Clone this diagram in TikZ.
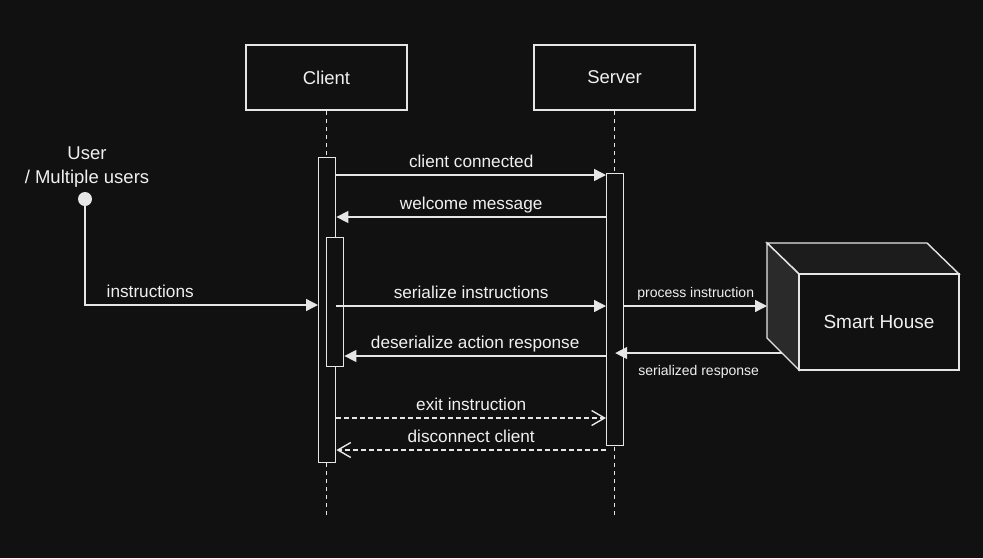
\documentclass[tikz,border=0pt]{standalone}
\usepackage{fontspec}
\setmainfont{Liberation Sans}
\usetikzlibrary{arrows.meta,calc}
\definecolor{bg}{HTML}{111111}
\definecolor{lc}{HTML}{E6E6E6}
\definecolor{tc}{HTML}{F0F0F0}
\definecolor{topf}{HTML}{1C1C1C}
\definecolor{leftf}{HTML}{2A2A2A}
\tikzset{
  actor/.style={draw=lc, line width=1.4pt, fill=bg, minimum width=161pt, minimum height=65pt, inner sep=0pt, text=tc, font=\fontsize{18.5}{21}\selectfont},
  actbar/.style={draw=lc, line width=1.4pt, fill=bg, minimum width=17pt, inner sep=0pt, anchor=north west},
  life/.style={draw=lc, line width=1.2pt, dash pattern=on 4pt off 4pt},
  msg/.style={draw=lc, line width=1.4pt, -{Triangle[length=12pt,width=12pt]}},
  ret/.style={draw=lc, line width=1.4pt, dash pattern=on 5pt off 3pt, -{Straight Barb[length=13pt,width=15pt,line width=1.4pt]}},
  lbl/.style={text=tc, font=\fontsize{17.2}{20}\selectfont, inner sep=0pt, text height=12pt, text depth=0pt},
  slbl/.style={text=tc, font=\fontsize{14}{17}\selectfont, inner sep=0pt, text height=10pt, text depth=0pt},
}
\begin{document}
\begin{tikzpicture}[x=1pt,y=-1pt]
\fill[bg] (0,0) rectangle (983,558);
\useasboundingbox (0,0) rectangle (983,558);

% headers
\node[actor] (client) at (326.5,77.5) {Client};
\node[actor] (server) at (614.5,77.5) {Server};

% lifelines
\draw[life] (client.south) -- (client.south |- 0,515);
\draw[life] (server.south) -- (server.south |- 0,515);

% activation bars
\node[actbar, minimum height=305pt] (cbar) at (318,157) {};
\node[actbar, minimum height=129pt] (cbar2) at (326,237) {};
\node[actbar, minimum height=272pt] (sbar) at (606,173) {};

% user
\node[circle, fill=lc, minimum size=14pt, inner sep=0pt] (user) at (85,199) {};
\node[lbl, font=\fontsize{18.5}{22}\selectfont] (userl1) at (87,153) {User};
\node[lbl, font=\fontsize{18.5}{22}\selectfont] (userl2) at (87,177) {/ Multiple users};

% smart house cube
\coordinate (bTL) at (767,243);
\coordinate (bTR) at (927,243);
\coordinate (fTL) at (799,274);
\coordinate (fTR) at (959,274);
\coordinate (fBR) at (959,370);
\coordinate (fBL) at (799,370);
\coordinate (bBL) at (767,338);
\filldraw[draw=lc, line width=1.4pt, fill=topf, line join=miter] (bTL) -- (bTR) -- (fTR) -- (fTL) -- cycle;
\filldraw[draw=lc, line width=1.4pt, fill=leftf, line join=miter] (bTL) -- (fTL) -- (fBL) -- (bBL) -- cycle;
\filldraw[draw=lc, line width=1.4pt, fill=bg] (fTL) rectangle (fBR);
\node[lbl, font=\fontsize{19}{22}\selectfont, text height=13pt] (house) at (879,322) {Smart House};
\coordinate (houseIn) at (767,306);
\coordinate (houseOut) at ($(bBL)!0.47!(fBL)$);

% messages
\draw[msg] (cbar.east |- 0,175) -- (sbar.west |- 0,175)
  node[lbl, midway, yshift=14pt] (m1) {client connected};
\draw[msg] (sbar.west |- 0,217) -- (cbar.east |- 0,217)
  node[lbl, midway, yshift=14pt] (m2) {welcome message};
\draw[msg] (user.south) |- (cbar.west |- 0,305)
  node[lbl, pos=0.64, yshift=14pt] (m3) {instructions};
\draw[msg] (cbar.east |- 0,306) -- (sbar.west |- 0,306)
  node[lbl, midway, yshift=14pt] (m4) {serialize instructions};
\draw[msg] (sbar.west |- 0,356) -- (cbar2.east |- 0,356)
  node[lbl, midway, yshift=14pt] (m5) {deserialize action response};
\draw[ret] (cbar.east |- 0,418) -- (sbar.west |- 0,418)
  node[lbl, midway, yshift=14pt] (m6) {exit instruction};
\draw[ret] (sbar.west |- 0,450) -- (cbar.east |- 0,450)
  node[lbl, midway, yshift=14pt] (m7) {disconnect client};
\draw[msg] (sbar.east |- 0,306) -- (houseIn)
  node[slbl, midway, yshift=14pt] (m8) {process instruction};
\draw[msg] (houseOut) -- (sbar.center |- houseOut)
  node[slbl, midway, yshift=-17pt] (m9) {serialized response};
\end{tikzpicture}
\end{document}
